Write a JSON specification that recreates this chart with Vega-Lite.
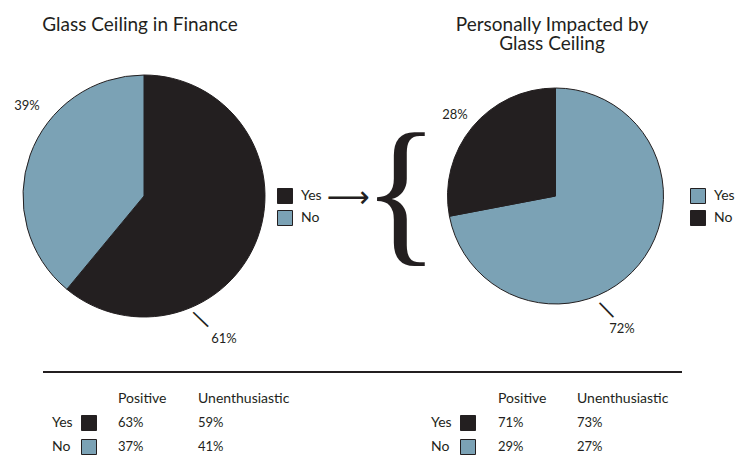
{
  "$schema": "https://vega.github.io/schema/vega-lite/v6.json",
  "background": "white",
  "padding": {"left": 0, "top": 15, "right": 0, "bottom": 0},
  "config": {
    "view": {"stroke": null},
    "font": "Lato",
    "title": {"font": "Lato", "fontSize": 19, "fontWeight": "normal", "color": "#231f20", "anchor": "middle", "frame": "group"},
    "legend": {"symbolType": "square", "symbolSize": 225, "symbolStrokeColor": "#231f20", "symbolStrokeWidth": 1, "symbolOpacity": 1, "labelFont": "Lato", "labelFontSize": 14, "labelColor": "#231f20", "labelOffset": 8, "rowPadding": 2, "padding": 0},
    "text": {"font": "Lato", "fontSize": 14, "color": "#231f20"}
  },
  "datasets": {
    "pie1": [{"answer": "Yes", "share": 0.61}, {"answer": "No", "share": 0.39}],
    "pie2": [{"answer": "Yes", "share": 0.72}, {"answer": "No", "share": 0.28}],
    "tbl": [
      {"side": "L", "row": "Yes", "col": "Positive", "share": 0.63},
      {"side": "L", "row": "Yes", "col": "Unenthusiastic", "share": 0.59},
      {"side": "L", "row": "No", "col": "Positive", "share": 0.37},
      {"side": "L", "row": "No", "col": "Unenthusiastic", "share": 0.41},
      {"side": "R", "row": "Yes", "col": "Positive", "share": 0.71},
      {"side": "R", "row": "Yes", "col": "Unenthusiastic", "share": 0.73},
      {"side": "R", "row": "No", "col": "Positive", "share": 0.29},
      {"side": "R", "row": "No", "col": "Unenthusiastic", "share": 0.27}
    ]
  },
  "spacing": 25,
  "resolve": {"scale": {"color": "independent", "theta": "independent"}},
  "vconcat": [
    {
      "spacing": 0,
      "bounds": "flush",
      "resolve": {"scale": {"color": "independent", "theta": "independent"}},
      "hconcat": [
        {
          "width": 288,
          "height": 250,
          "title": {"text": "Glass Ceiling in Finance", "offset": 36.5, "dx": -4},
          "layer": [
            {
              "data": {"name": "pie1"},
              "mark": {"type": "arc", "radius": 121, "stroke": "#231f20", "strokeWidth": 1},
              "encoding": {
                "theta": {"field": "share", "type": "quantitative"},
                "order": {"field": "answer", "sort": "descending"},
                "color": {"field": "answer", "type": "nominal", "scale": {"domain": ["Yes", "No"], "range": ["#231f20", "#7ba2b5"]}, "legend": {"title": null, "orient": "none", "legendX": 277, "legendY": 117}}
              }
            },
            {
              "data": {"name": "pie1"},
              "transform": [{"filter": "datum.answer === 'No'"}],
              "mark": {"type": "text", "fontSize": 13, "dx": -117, "dy": -90},
              "encoding": {"text": {"field": "share", "type": "quantitative", "format": ".0%"}}
            },
            {
              "data": {"name": "pie1"},
              "transform": [{"filter": "datum.answer === 'Yes'"}],
              "mark": {"type": "text", "fontSize": 13, "dx": 80, "dy": 143},
              "encoding": {"text": {"field": "share", "type": "quantitative", "format": ".0%"}}
            },
            {
              "data": {"values": [{}]},
              "mark": {"type": "text", "text": "—", "font": "DejaVu Sans", "fontSize": 23, "angle": 44, "dx": 126.6, "dy": 48.7},
              "encoding": {}
            }
          ]
        },
        {
          "width": 132,
          "height": 250,
          "data": {"values": [{}]},
          "layer": [
            {"mark": {"type": "text", "text": "⟶", "font": "DejaVu Sans", "fontSize": 30, "dx": -6, "dy": 2}, "encoding": {}},
            {"mark": {"type": "text", "text": "{", "font": "Liberation Serif", "fontSize": 160, "dx": 47, "dy": 0}, "encoding": {}}
          ]
        },
        {
          "width": 271,
          "height": 250,
          "title": {"text": ["Personally Impacted by", "Glass Ceiling"], "lineHeight": 19, "offset": 17.5, "dx": -3.5},
          "layer": [
            {
              "data": {"name": "pie2"},
              "mark": {"type": "arc", "radius": 108, "stroke": "#231f20", "strokeWidth": 1},
              "encoding": {
                "theta": {"field": "share", "type": "quantitative"},
                "order": {"field": "answer", "sort": "descending"},
                "color": {"field": "answer", "type": "nominal", "scale": {"domain": ["Yes", "No"], "range": ["#7ba2b5", "#231f20"]}, "legend": {"title": null, "orient": "none", "legendX": 270, "legendY": 117}}
              }
            },
            {
              "data": {"name": "pie2"},
              "transform": [{"filter": "datum.answer === 'No'"}],
              "mark": {"type": "text", "fontSize": 13, "dx": -100.5, "dy": -81},
              "encoding": {"text": {"field": "share", "type": "quantitative", "format": ".0%"}}
            },
            {
              "data": {"name": "pie2"},
              "transform": [{"filter": "datum.answer === 'Yes'"}],
              "mark": {"type": "text", "fontSize": 13, "dx": 66.5, "dy": 133},
              "encoding": {"text": {"field": "share", "type": "quantitative", "format": ".0%"}}
            },
            {
              "data": {"values": [{}]},
              "mark": {"type": "text", "text": "—", "font": "DejaVu Sans", "fontSize": 22, "angle": 46, "dx": 117.5, "dy": 41.5},
              "encoding": {}
            }
          ]
        }
      ]
    },
    {
      "width": 700,
      "height": 80,
      "resolve": {"scale": {"x": "independent"}},
      "layer": [
        {
          "data": {"values": [{}]},
          "mark": {"type": "rule", "color": "#231f20", "strokeWidth": 2},
          "encoding": {
            "x": {"datum": 0, "type": "quantitative", "scale": {"domain": [0, 1], "range": [43, 682]}, "axis": null},
            "x2": {"datum": 1},
            "y": {"value": 0}
          }
        },
        {
          "data": {"name": "tbl"},
          "transform": [{"filter": "datum.col === 'Positive'"}],
          "mark": {"type": "text", "align": "left", "baseline": "middle", "fontSize": 14},
          "encoding": {
            "x": {"field": "side", "type": "nominal", "scale": {"type": "point", "domain": ["L", "R"], "range": [52, 431], "padding": 0}, "axis": null},
            "y": {"field": "row", "type": "nominal", "scale": {"type": "point", "domain": ["header", "Yes", "No"], "range": [27, 75], "padding": 0}, "axis": null},
            "text": {"field": "row", "type": "nominal"}
          }
        },
        {
          "data": {"name": "tbl"},
          "transform": [{"filter": "datum.col === 'Positive'"}],
          "mark": {"type": "point", "shape": "square", "filled": true, "size": 225, "opacity": 1, "stroke": "#231f20", "strokeWidth": 1},
          "encoding": {
            "x": {"field": "side", "type": "nominal", "scale": {"type": "point", "domain": ["L", "R"], "range": [89, 468], "padding": 0}, "axis": null},
            "y": {"field": "row", "type": "nominal", "scale": {"type": "point", "domain": ["header", "Yes", "No"], "range": [27, 75], "padding": 0}, "axis": null},
            "color": {"field": "row", "type": "nominal", "scale": {"domain": ["Yes", "No"], "range": ["#231f20", "#7ba2b5"]}, "legend": null}
          }
        },
        {
          "data": {"name": "tbl"},
          "transform": [{"filter": "datum.col === 'Positive' && datum.row === 'Yes'"}],
          "mark": {"type": "text", "align": "left", "baseline": "middle", "fontSize": 14},
          "encoding": {
            "x": {"field": "side", "type": "nominal", "scale": {"type": "point", "domain": ["L", "R"], "range": [118, 498], "padding": 0}, "axis": null},
            "y": {"datum": "header", "type": "nominal"},
            "text": {"field": "col", "type": "nominal"}
          }
        },
        {
          "data": {"name": "tbl"},
          "transform": [{"filter": "datum.col === 'Positive'"}],
          "mark": {"type": "text", "align": "left", "baseline": "middle", "fontSize": 13},
          "encoding": {
            "x": {"field": "side", "type": "nominal", "scale": {"type": "point", "domain": ["L", "R"], "range": [118, 498], "padding": 0}, "axis": null},
            "y": {"field": "row", "type": "nominal"},
            "text": {"field": "share", "type": "quantitative", "format": ".0%"}
          }
        },
        {
          "data": {"name": "tbl"},
          "transform": [{"filter": "datum.col === 'Unenthusiastic' && datum.row === 'Yes'"}],
          "mark": {"type": "text", "align": "left", "baseline": "middle", "fontSize": 14},
          "encoding": {
            "x": {"field": "side", "type": "nominal", "scale": {"type": "point", "domain": ["L", "R"], "range": [198, 577], "padding": 0}, "axis": null},
            "y": {"datum": "header", "type": "nominal"},
            "text": {"field": "col", "type": "nominal"}
          }
        },
        {
          "data": {"name": "tbl"},
          "transform": [{"filter": "datum.col === 'Unenthusiastic'"}],
          "mark": {"type": "text", "align": "left", "baseline": "middle", "fontSize": 13},
          "encoding": {
            "x": {"field": "side", "type": "nominal", "scale": {"type": "point", "domain": ["L", "R"], "range": [198, 577], "padding": 0}, "axis": null},
            "y": {"field": "row", "type": "nominal"},
            "text": {"field": "share", "type": "quantitative", "format": ".0%"}
          }
        }
      ]
    }
  ]
}
